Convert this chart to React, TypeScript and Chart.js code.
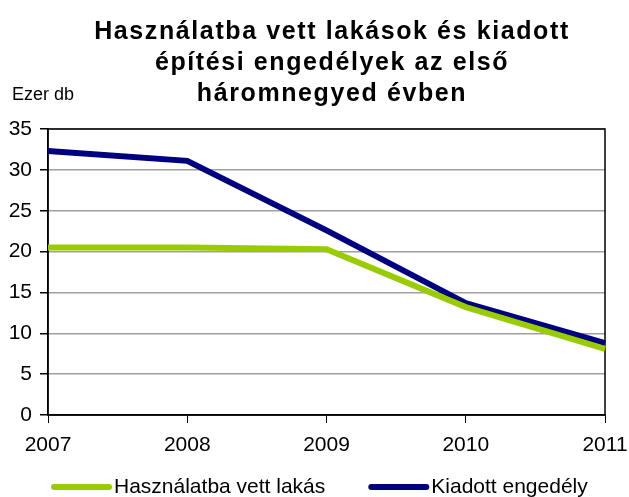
import { useEffect, useRef } from "react";
import { Chart, registerables } from "chart.js";

Chart.register(...registerables);

const categories = ["2007", "2008", "2009", "2010", "2011"];
const usedFlats = [20.5, 20.5, 20.3, 13.2, 8.1];
const permits = [32.3, 31.1, 22.6, 13.7, 8.8];
const seriesNames = ["Használatba vett lakás", "Kiadott engedély"];
const seriesColors = ["#99CC00", "#000080"];
const titleLines = ["Használatba vett lakások és kiadott", "építési engedélyek az első", "háromnegyed évben"];
const unitLabel = "Ezer db";

const FONT = "'Liberation Sans', Arial, sans-serif";

const textPlugin = {
  id: "textPlugin",
  beforeDatasetsDraw(chart: any) {
    const ctx = chart.ctx;
    const a = chart.chartArea;
    ctx.save();
    ctx.strokeStyle = "#000";
    ctx.lineWidth = 1.5;
    ctx.strokeRect(a.left, a.top, a.right - a.left, a.bottom - a.top);
    ctx.restore();
  },
  afterDraw(chart: any) {
    const ctx = chart.ctx;
    ctx.save();
    ctx.fillStyle = "#000";
    ctx.textBaseline = "middle";
    ctx.textAlign = "center";
    ctx.font = `bold 25px ${FONT}`;
    (ctx as any).letterSpacing = "1.6px";
    titleLines.forEach((l, i) => ctx.fillText(l, 324, 24 + i * 31));
    (ctx as any).letterSpacing = "0px";
    ctx.textAlign = "left";
    ctx.font = `18px ${FONT}`;
    ctx.fillText(unitLabel, 4, 87);

    // legend
    ctx.font = `21px ${FONT}`;
    let x = 43;
    const y = 479;
    chart.data.datasets.forEach((d: any) => {
      ctx.strokeStyle = d.borderColor;
      ctx.lineWidth = 6;
      ctx.lineCap = "round";
      ctx.beginPath();
      ctx.moveTo(x + 3, y);
      ctx.lineTo(x + 58, y);
      ctx.stroke();
      ctx.fillStyle = "#000";
      ctx.fillText(d.label, x + 63, y);
      x += 63 + ctx.measureText(d.label).width + 43;
    });
    ctx.restore();
  },
};

export default function App() {
  const ref = useRef<HTMLCanvasElement>(null);
  useEffect(() => {
    if (!ref.current) return;
    const chart = new Chart(ref.current, {
      type: "line",
      data: {
        labels: categories,
        datasets: [
          { label: seriesNames[0], data: usedFlats, borderColor: seriesColors[0], backgroundColor: seriesColors[0], borderWidth: 6, pointRadius: 0, tension: 0 },
          { label: seriesNames[1], data: permits, borderColor: seriesColors[1], backgroundColor: seriesColors[1], borderWidth: 6, pointRadius: 0, tension: 0 },
        ],
      },
      options: {
        animation: false,
        responsive: true,
        maintainAspectRatio: false,
        layout: { padding: { top: 121, right: 24, left: 0, bottom: 0 } },
        plugins: {
          title: { display: false },
          tooltip: { enabled: false },
          legend: { display: false },
        },
        scales: {
          x: {
            offset: false,
            afterFit: (s: any) => { s.height = 82; s.paddingRight = 0; s.paddingLeft = 0; },
            grid: { drawOnChartArea: false, drawTicks: true, tickLength: 8, tickColor: "#000" },
            border: { display: true, color: "#000", width: 1.5 },
            ticks: { color: "#000", font: { family: FONT, size: 21 }, padding: 10, maxRotation: 0, autoSkip: false },
          },
          y: {
            min: 0,
            max: 35,
            afterFit: (s: any) => { s.width = 40; },
            grid: { color: "#a0a0a0", lineWidth: 1.5, tickColor: "#000", tickLength: 8 },
            border: { display: true, color: "#000", width: 1.5 },
            ticks: { stepSize: 5, color: "#000", font: { family: FONT, size: 21 }, padding: 8 },
          },
        },
      },
      plugins: [textPlugin],
    });
    return () => chart.destroy();
  }, []);
  return (
    <div style={{ position: "absolute", left: 8, top: 8, width: 621, height: 489 }}>
      <canvas ref={ref} />
    </div>
  );
}
